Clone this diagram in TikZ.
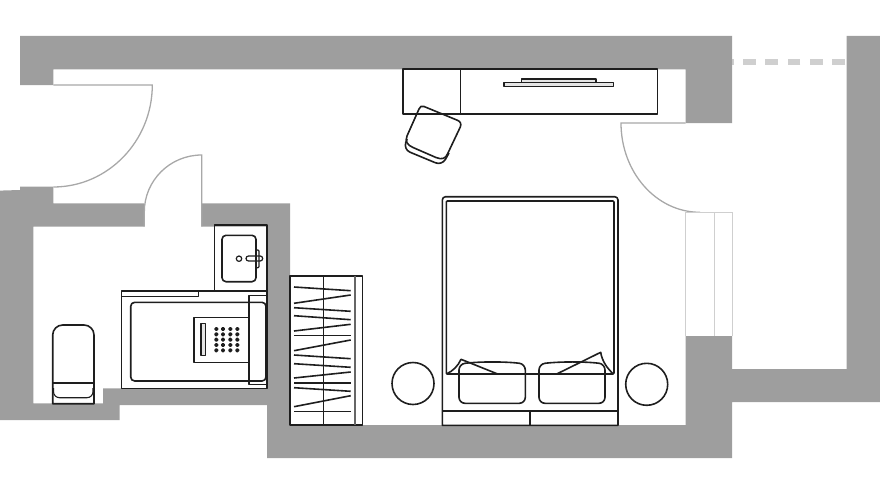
\documentclass[tikz,border=0pt]{standalone}
\definecolor{muro}{HTML}{9E9E9E}
\definecolor{puerta}{HTML}{A8A8A8}
\definecolor{vidrio}{HTML}{CFCFCF}
\definecolor{mueble}{HTML}{1E1E1E}
\tikzset{
  muro/.style={fill=muro,draw=none},
  puerta/.style={draw=puerta,line width=1.3pt},
  vidrio/.style={draw=vidrio,line width=1pt},
  mueble/.style={draw=mueble,line width=1.6pt,line join=round},
}
\begin{document}
\begin{tikzpicture}[x=1pt,y=-1pt]
\useasboundingbox (0,0) rectangle (880,495);

% Terraza
\draw[vidrio,line width=6.3pt,dash pattern=on 12.7pt off 9.6pt] (845,61.7) -- (732,61.7);

% Muros
\fill[muro] (20,36) -- (732,36) -- (732,123) -- (685.7,123) -- (685.7,69.3) -- (53.3,69.3) -- (53.3,85) -- (20,85) -- cycle;
\fill[muro] (0,190.6) -- (20,190) -- (20,186.5) -- (53.3,186.5) -- (53.3,203.3) -- (144.3,203.3) -- (144.3,226.5) -- (33.3,226.5)
  -- (33.3,403.3) -- (103,403.3) -- (103,388.3) -- (267,388.3) -- (267,226.5) -- (201.7,226.5) -- (201.7,203.3) -- (290,203.3)
  -- (290,425) -- (685.7,425) -- (685.7,336) -- (732,336) -- (732,369) -- (846.7,369) -- (846.7,36) -- (880,36) -- (880,402)
  -- (732,402) -- (732,458) -- (267,458) -- (267,405) -- (119.5,405) -- (119.5,420) -- (0,420) -- cycle;

% Puertas
\draw[puerta] (53.3,85) -- (152.3,85) .. controls (152.3,141) and (108,187) .. (53.3,187);
\draw[puerta] (144.3,226.5) -- (144.3,212) .. controls (144.3,180.5) and (170,155) .. (201.7,155) -- (201.7,226.5);
\draw[puerta] (685.7,123) -- (621,123) .. controls (621,172) and (656,212.3) .. (700,212.3);

% Ventana
\draw[vidrio] (685.7,336) -- (685.7,212.5) -- (732,212.5) -- (732,336);
\draw[vidrio] (714.7,212.5) -- (714.7,336);

% Escritorio
\draw[mueble] (403,69) rectangle (657.3,114);
\draw[mueble] (460.3,69) -- (460.3,114);
\draw[mueble,line width=1.1pt,fill=black!10] (521.3,79) rectangle (596,82.7);
\draw[mueble,line width=1.1pt,fill=black!10] (504,82.7) rectangle (613.3,86.7);

% Silla
\draw[mueble,rounded corners=7pt] (407,139) -- (403.5,149.5) -- (442,165.5) -- (449,153);
\draw[mueble] (424,106.5) -- (457.5,120.3) .. controls (460.5,121.5) and (461.5,124) .. (460.3,127) -- (447.5,154)
  .. controls (445.5,158.5) and (442,160) .. (436,157.5) -- (413,147.5) .. controls (407,145) and (405,141) .. (407,136) -- (419,109) .. controls (420,106.5) and (421.5,105.5) .. (424,106.5) -- cycle;

% Cama
\draw[mueble] (442.3,425.3) -- (442.3,200) arc[start angle=180,end angle=270,radius=3.3] -- (614.7,196.7) arc[start angle=270,end angle=360,radius=3.3] -- (618,425.3) -- cycle;
\draw[mueble,rounded corners=1pt] (446.3,374) -- (446.3,201) -- (614,201) -- (614,374) -- cycle;
\draw[mueble] (442.3,411) -- (618,411);
\draw[mueble] (529.7,411) -- (529.7,425.3);
\draw[mueble,rounded corners=6pt] (459,403.3) -- (459,364) .. controls (480,361.5) and (505,361.5) .. (525.3,364) -- (525.3,403.3) -- cycle;
\draw[mueble,rounded corners=6pt] (539,403.3) -- (539,364) .. controls (560,361.5) and (585,361.5) .. (605,364) -- (605,403.3) -- cycle;
\draw[mueble] (446.3,374) .. controls (453,371) and (458,366) .. (461,359.3) -- (497.7,374);
\draw[mueble] (556.7,374) -- (600.7,352.3) .. controls (602,361) and (607,368) .. (613.3,374);

% Mesillas
\draw[mueble] (413,383.5) circle (21);
\draw[mueble] (646.7,384.3) circle (21);

% Armario
\draw[mueble] (290,275.7) rectangle (362.3,424.7);
\draw[mueble] (323.3,275.7) -- (323.3,424.7);
\draw[mueble,draw=black!60,line width=1.2pt] (355,275.7) -- (355,424.7);
\foreach \ya/\yb in {287/290.7,303.3/295,307.7/311.3,315.7/319.7,331/324.3,335.3/335.3,350.7/340,355/358.7,
  363.7/367.3,378/372,382.7/382.7,387.7/391.3,406.7/395.7,411.3/411.3}
  \draw[mueble] (294,\ya) -- (350.7,\yb);

% Lavabo
\draw[mueble] (214.3,291) -- (214.3,225) -- (266.7,225) -- (266.7,291);
\draw[mueble,rounded corners=4pt] (222,235.3) rectangle (256,281.7);
\draw[mueble,line width=1.2pt] (239,258.7) circle (2.7);
\draw[mueble,line width=1.2pt,rounded corners=2.5pt] (246,256) rectangle (262.7,261);
\draw[mueble,line width=1.2pt,rounded corners=1pt] (256,250) rectangle (259,267.7);

% Banera
\draw[mueble] (121.3,291) rectangle (266.7,388.3);
\draw[mueble] (121.3,296.3) -- (198.3,296.3) -- (198.3,291);
\draw[mueble,rounded corners=4pt] (130.7,302.3) rectangle (266,381);
\draw[mueble] (248.7,317.3) -- (193.7,317.3) -- (193.7,362.3) -- (248.7,362.3);
\draw[mueble,line width=1.1pt,fill=black!10] (201,323.7) rectangle (205.7,355.7);
\foreach \px in {216.3,223,230.3,237.3}
  \foreach \py in {329,334.3,339.7,345,350.3}
    \fill[mueble] (\px,\py) circle (1.4);
\draw[mueble] (248.7,295.3) rectangle (266.7,384.3);

% Inodoro
\draw[mueble] (52.7,403.7) -- (52.7,335) arc[start angle=180,end angle=270,radius=10] -- (84,325) arc[start angle=270,end angle=360,radius=10] -- (94,403.7) -- cycle;
\draw[mueble] (52.7,382.7) -- (94,382.7);
\draw[mueble,line width=1.1pt,rounded corners=6pt] (53.5,388) -- (53.5,397.7) -- (93,397.7) -- (93,388);
\end{tikzpicture}
\end{document}
